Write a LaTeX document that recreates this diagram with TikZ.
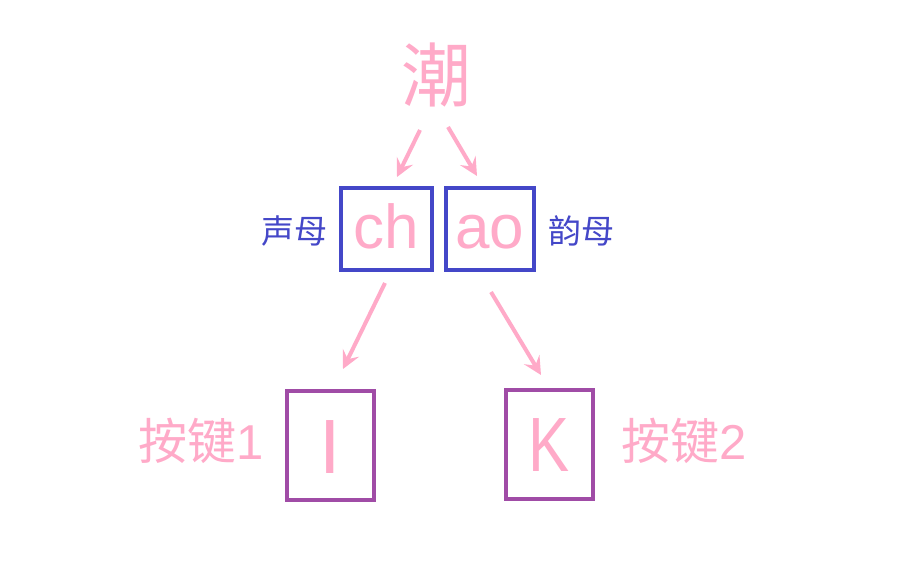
\documentclass[tikz,border=0pt]{standalone}
\usepackage{fontspec}
\usepackage{graphicx}
\setmainfont{Liberation Sans}
\newfontfamily\cjk{Noto Sans CJK SC}
\usetikzlibrary{arrows.meta,calc}
\definecolor{pk}{HTML}{FFAAC8}
\definecolor{bl}{HTML}{4447C8}
\definecolor{pu}{HTML}{A04CA6}
\tikzset{
  bluebox/.style={draw=bl,line width=4pt,text=pk,inner sep=0pt,text height=44.4pt,text depth=6.4pt,font=\fontsize{62}{62}\selectfont},
  keybox/.style={draw=pu,line width=4pt,text=pk,inner sep=0pt,text height=55.1pt,text depth=0pt,font=\fontsize{77}{77}\selectfont},
  arr/.style={draw=pk,line width=4pt,-{Stealth[length=18pt,width=18pt,inset=7pt]}},
  lbl/.style={inner sep=0pt,anchor=center}
}
\begin{document}
\begin{tikzpicture}[x=1pt,y=-1pt]
\useasboundingbox (0,0) rectangle (914,581);
\node[lbl,text=pk,font=\cjk\fontsize{70}{70}\selectfont] (han) at (436,75) {潮};
\node[bluebox,minimum width=91pt,minimum height=82pt] (ch) at (386.5,229) {ch};
\node[bluebox,minimum width=88pt,minimum height=82pt] (ao) at (490,229) {ao};
\node[keybox,minimum width=87pt,minimum height=109pt] (I) at (330.5,445.5) {I};
\node[keybox,minimum width=87pt,minimum height=109pt,text depth=2pt] (K) at (549.5,444.5) {\scalebox{0.8}[1]{K}};
\node[lbl,text=bl,font=\cjk\fontsize{33}{33}\selectfont] (sm) at (294.5,231) {声母};
\node[lbl,text=bl,font=\cjk\fontsize{33}{33}\selectfont] (ym) at (581.5,231) {韵母};
\node[lbl,text=pk,font=\fontsize{49}{49}\selectfont] (k1) at (201,441) {{\cjk 按键}1};
\node[lbl,text=pk,font=\fontsize{49}{49}\selectfont] (k2) at (684,441) {{\cjk 按键}2};
\draw[arr] ($(han)+(-16,55)$) -- ($(ch)+(10.5,-52)$);
\draw[arr] ($(han)+(12,52)$) -- ($(ao)+(-13,-53)$);
\draw[arr] ($(ch)+(-1.5,54)$) -- ($(I)+(12.5,-76.5)$);
\draw[arr] ($(ao)+(1,63)$) -- ($(K)+(-8.5,-69.5)$);
\end{tikzpicture}
\end{document}
